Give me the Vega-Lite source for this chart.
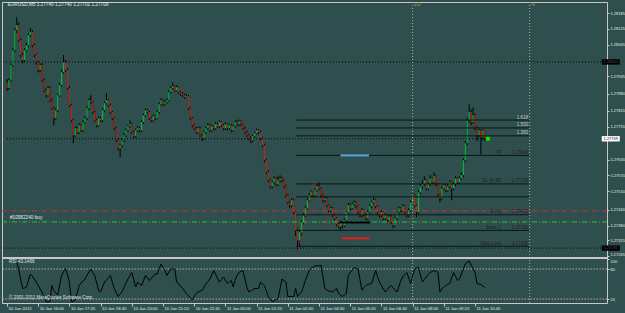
{
"$schema":"https://vega.github.io/schema/vega-lite/v6.json",
"width":605,"height":301,
"autosize":{"type":"none"},
"padding":{"left":2,"top":2,"right":18,"bottom":10},
"background":"#2f4f4f",
"config":{"view":{"fill":"#2f4f4f","stroke":"#c8c8c8","strokeWidth":1},"axis":{"grid":false,"domain":false,"labelFont":"Liberation Sans"},"text":{"font":"Liberation Sans"}},
"datasets":{
"bars":[
{"i":0,"o":1.27920,"h":1.27935,"l":1.27890,"c":1.27901},
{"i":1,"o":1.27901,"h":1.27938,"l":1.27895,"c":1.27931},
{"i":2,"o":1.27931,"h":1.27995,"l":1.27925,"c":1.27988},
{"i":3,"o":1.27988,"h":1.28052,"l":1.27982,"c":1.28044},
{"i":4,"o":1.28044,"h":1.28128,"l":1.28038,"c":1.28120},
{"i":5,"o":1.28120,"h":1.28170,"l":1.28110,"c":1.28139,"r":93},
{"i":6,"o":1.28139,"h":1.28150,"l":1.28075,"c":1.28082,"r":80},
{"i":7,"o":1.28082,"h":1.28090,"l":1.28018,"c":1.28026,"r":60},
{"i":8,"o":1.28026,"h":1.28035,"l":1.27995,"c":1.28007,"r":41},
{"i":9,"o":1.28007,"h":1.28052,"l":1.28000,"c":1.28044,"r":42},
{"i":10,"o":1.28044,"h":1.28072,"l":1.28038,"c":1.28063,"r":44},
{"i":11,"o":1.28063,"h":1.28108,"l":1.28055,"c":1.28101,"r":58},
{"i":12,"o":1.28101,"h":1.28128,"l":1.28095,"c":1.28113,"r":70},
{"i":13,"o":1.28113,"h":1.28120,"l":1.28055,"c":1.28063,"r":66},
{"i":14,"o":1.28063,"h":1.28070,"l":1.28018,"c":1.28026,"r":60},
{"i":15,"o":1.28026,"h":1.28032,"l":1.27990,"c":1.27999,"r":54},
{"i":16,"o":1.27999,"h":1.28005,"l":1.27960,"c":1.27969,"r":47},
{"i":17,"o":1.27969,"h":1.27995,"l":1.27962,"c":1.27988,"r":40},
{"i":18,"o":1.27988,"h":1.27995,"l":1.27925,"c":1.27931,"r":34},
{"i":19,"o":1.27931,"h":1.27938,"l":1.27885,"c":1.27893,"r":24},
{"i":20,"o":1.27893,"h":1.27900,"l":1.27865,"c":1.27874,"r":15},
{"i":21,"o":1.27874,"h":1.27908,"l":1.27868,"c":1.27901,"r":14},
{"i":22,"o":1.27901,"h":1.27908,"l":1.27848,"c":1.27855,"r":15},
{"i":23,"o":1.27855,"h":1.27862,"l":1.27818,"c":1.27825,"r":47},
{"i":24,"o":1.27825,"h":1.27830,"l":1.27760,"c":1.27787,"r":37},
{"i":25,"o":1.27787,"h":1.27825,"l":1.27780,"c":1.27817,"r":32},
{"i":26,"o":1.27817,"h":1.27880,"l":1.27810,"c":1.27874,"r":28},
{"i":27,"o":1.27874,"h":1.27920,"l":1.27868,"c":1.27912,"r":48},
{"i":28,"o":1.27912,"h":1.27970,"l":1.27905,"c":1.27961,"r":67},
{"i":29,"o":1.27961,"h":1.28026,"l":1.27955,"c":1.27999,"r":75},
{"i":30,"o":1.27999,"h":1.28007,"l":1.27962,"c":1.27969,"r":81},
{"i":31,"o":1.27969,"h":1.27975,"l":1.27895,"c":1.27901,"r":68},
{"i":32,"o":1.27901,"h":1.27908,"l":1.27830,"c":1.27836,"r":54},
{"i":33,"o":1.27836,"h":1.27842,"l":1.27772,"c":1.27779,"r":15},
{"i":34,"o":1.27779,"h":1.27785,"l":1.27692,"c":1.27722,"r":16},
{"i":35,"o":1.27722,"h":1.27756,"l":1.27715,"c":1.27749,"r":18},
{"i":36,"o":1.27749,"h":1.27755,"l":1.27727,"c":1.27734,"r":32},
{"i":37,"o":1.27734,"h":1.27768,"l":1.27728,"c":1.27760,"r":47},
{"i":38,"o":1.27760,"h":1.27766,"l":1.27735,"c":1.27741,"r":52},
{"i":39,"o":1.27741,"h":1.27779,"l":1.27735,"c":1.27772,"r":56},
{"i":40,"o":1.27772,"h":1.27795,"l":1.27765,"c":1.27787,"r":60},
{"i":41,"o":1.27787,"h":1.27832,"l":1.27780,"c":1.27825,"r":67},
{"i":42,"o":1.27825,"h":1.27862,"l":1.27818,"c":1.27855,"r":74},
{"i":43,"o":1.27855,"h":1.27874,"l":1.27840,"c":1.27847,"r":80},
{"i":44,"o":1.27847,"h":1.27852,"l":1.27803,"c":1.27810,"r":73},
{"i":45,"o":1.27810,"h":1.27815,"l":1.27772,"c":1.27779,"r":67},
{"i":46,"o":1.27779,"h":1.27785,"l":1.27752,"c":1.27760,"r":52},
{"i":47,"o":1.27760,"h":1.27794,"l":1.27755,"c":1.27787,"r":37},
{"i":48,"o":1.27787,"h":1.27792,"l":1.27772,"c":1.27779,"r":34},
{"i":49,"o":1.27779,"h":1.27824,"l":1.27772,"c":1.27817,"r":44},
{"i":50,"o":1.27817,"h":1.27850,"l":1.27810,"c":1.27844,"r":54},
{"i":51,"o":1.27844,"h":1.27882,"l":1.27838,"c":1.27855,"r":58},
{"i":52,"o":1.27855,"h":1.27860,"l":1.27830,"c":1.27836,"r":62},
{"i":53,"o":1.27836,"h":1.27842,"l":1.27803,"c":1.27810,"r":67},
{"i":54,"o":1.27810,"h":1.27815,"l":1.27780,"c":1.27787,"r":54},
{"i":55,"o":1.27787,"h":1.27792,"l":1.27742,"c":1.27749,"r":41},
{"i":56,"o":1.27749,"h":1.27755,"l":1.27696,"c":1.27703,"r":33},
{"i":57,"o":1.27703,"h":1.27710,"l":1.27665,"c":1.27673,"r":25},
{"i":58,"o":1.27673,"h":1.27690,"l":1.27639,"c":1.27684,"r":30},
{"i":59,"o":1.27684,"h":1.27710,"l":1.27676,"c":1.27703,"r":34},
{"i":60,"o":1.27703,"h":1.27730,"l":1.27696,"c":1.27722,"r":43},
{"i":61,"o":1.27722,"h":1.27748,"l":1.27715,"c":1.27741,"r":52},
{"i":62,"o":1.27741,"h":1.27762,"l":1.27735,"c":1.27756,"r":60},
{"i":63,"o":1.27756,"h":1.27779,"l":1.27750,"c":1.27764,"r":66},
{"i":64,"o":1.27764,"h":1.27770,"l":1.27727,"c":1.27734,"r":73},
{"i":65,"o":1.27734,"h":1.27740,"l":1.27711,"c":1.27719,"r":58},
{"i":66,"o":1.27719,"h":1.27748,"l":1.27712,"c":1.27741,"r":44},
{"i":67,"o":1.27741,"h":1.27756,"l":1.27735,"c":1.27749,"r":54},
{"i":68,"o":1.27749,"h":1.27755,"l":1.27733,"c":1.27741,"r":50},
{"i":69,"o":1.27741,"h":1.27779,"l":1.27735,"c":1.27772,"r":47},
{"i":70,"o":1.27772,"h":1.27805,"l":1.27765,"c":1.27798,"r":57},
{"i":71,"o":1.27798,"h":1.27825,"l":1.27792,"c":1.27817,"r":67},
{"i":72,"o":1.27817,"h":1.27822,"l":1.27803,"c":1.27810,"r":62},
{"i":73,"o":1.27810,"h":1.27815,"l":1.27780,"c":1.27787,"r":57},
{"i":74,"o":1.27787,"h":1.27792,"l":1.27772,"c":1.27779,"r":62},
{"i":75,"o":1.27779,"h":1.27800,"l":1.27772,"c":1.27794,"r":66},
{"i":76,"o":1.27794,"h":1.27798,"l":1.27780,"c":1.27787,"r":70},
{"i":77,"o":1.27787,"h":1.27817,"l":1.27782,"c":1.27810,"r":70},
{"i":78,"o":1.27810,"h":1.27847,"l":1.27805,"c":1.27840,"r":80},
{"i":79,"o":1.27840,"h":1.27862,"l":1.27835,"c":1.27855,"r":90},
{"i":80,"o":1.27855,"h":1.27860,"l":1.27833,"c":1.27840,"r":83},
{"i":81,"o":1.27840,"h":1.27855,"l":1.27835,"c":1.27847,"r":77},
{"i":82,"o":1.27847,"h":1.27862,"l":1.27842,"c":1.27855,"r":67},
{"i":83,"o":1.27855,"h":1.27892,"l":1.27850,"c":1.27885,"r":74},
{"i":84,"o":1.27885,"h":1.27908,"l":1.27880,"c":1.27901,"r":80},
{"i":85,"o":1.27901,"h":1.27923,"l":1.27895,"c":1.27908,"r":80},
{"i":86,"o":1.27908,"h":1.27912,"l":1.27887,"c":1.27893,"r":80},
{"i":87,"o":1.27893,"h":1.27912,"l":1.27888,"c":1.27904,"r":54},
{"i":88,"o":1.27904,"h":1.27908,"l":1.27878,"c":1.27885,"r":50},
{"i":89,"o":1.27885,"h":1.27890,"l":1.27871,"c":1.27878,"r":45},
{"i":90,"o":1.27878,"h":1.27885,"l":1.27866,"c":1.27874,"r":41},
{"i":91,"o":1.27874,"h":1.27880,"l":1.27860,"c":1.27866,"r":36},
{"i":92,"o":1.27866,"h":1.27878,"l":1.27862,"c":1.27870,"r":31},
{"i":93,"o":1.27870,"h":1.27875,"l":1.27818,"c":1.27825,"r":27},
{"i":94,"o":1.27825,"h":1.27830,"l":1.27780,"c":1.27787,"r":22},
{"i":95,"o":1.27787,"h":1.27792,"l":1.27752,"c":1.27760,"r":18},
{"i":96,"o":1.27760,"h":1.27766,"l":1.27742,"c":1.27749,"r":25},
{"i":97,"o":1.27749,"h":1.27755,"l":1.27727,"c":1.27734,"r":31},
{"i":98,"o":1.27734,"h":1.27756,"l":1.27728,"c":1.27749,"r":34},
{"i":99,"o":1.27749,"h":1.27755,"l":1.27715,"c":1.27722,"r":36},
{"i":100,"o":1.27722,"h":1.27728,"l":1.27700,"c":1.27711,"r":37},
{"i":101,"o":1.27711,"h":1.27740,"l":1.27705,"c":1.27734,"r":44},
{"i":102,"o":1.27734,"h":1.27756,"l":1.27728,"c":1.27749,"r":50},
{"i":103,"o":1.27749,"h":1.27768,"l":1.27742,"c":1.27760,"r":55},
{"i":104,"o":1.27760,"h":1.27766,"l":1.27735,"c":1.27741,"r":60},
{"i":105,"o":1.27741,"h":1.27762,"l":1.27735,"c":1.27756,"r":68},
{"i":106,"o":1.27756,"h":1.27760,"l":1.27742,"c":1.27749,"r":77},
{"i":107,"o":1.27749,"h":1.27772,"l":1.27742,"c":1.27764,"r":69},
{"i":108,"o":1.27764,"h":1.27770,"l":1.27750,"c":1.27756,"r":61},
{"i":109,"o":1.27756,"h":1.27779,"l":1.27750,"c":1.27772,"r":54},
{"i":110,"o":1.27772,"h":1.27776,"l":1.27753,"c":1.27760,"r":59},
{"i":111,"o":1.27760,"h":1.27765,"l":1.27741,"c":1.27749,"r":64},
{"i":112,"o":1.27749,"h":1.27772,"l":1.27742,"c":1.27764,"r":57},
{"i":113,"o":1.27764,"h":1.27768,"l":1.27741,"c":1.27749,"r":51},
{"i":114,"o":1.27749,"h":1.27766,"l":1.27742,"c":1.27760,"r":54},
{"i":115,"o":1.27760,"h":1.27765,"l":1.27734,"c":1.27741,"r":57},
{"i":116,"o":1.27741,"h":1.27762,"l":1.27735,"c":1.27756,"r":44},
{"i":117,"o":1.27756,"h":1.27779,"l":1.27750,"c":1.27772,"r":58},
{"i":118,"o":1.27772,"h":1.27779,"l":1.27757,"c":1.27764,"r":67},
{"i":119,"o":1.27764,"h":1.27782,"l":1.27757,"c":1.27775,"r":73},
{"i":120,"o":1.27775,"h":1.27779,"l":1.27757,"c":1.27764,"r":75},
{"i":121,"o":1.27764,"h":1.27768,"l":1.27742,"c":1.27749,"r":77},
{"i":122,"o":1.27749,"h":1.27755,"l":1.27727,"c":1.27734,"r":60},
{"i":123,"o":1.27734,"h":1.27740,"l":1.27715,"c":1.27722,"r":44},
{"i":124,"o":1.27722,"h":1.27728,"l":1.27703,"c":1.27711,"r":34},
{"i":125,"o":1.27711,"h":1.27718,"l":1.27692,"c":1.27703,"r":36},
{"i":126,"o":1.27703,"h":1.27725,"l":1.27696,"c":1.27719,"r":39},
{"i":127,"o":1.27719,"h":1.27736,"l":1.27712,"c":1.27730,"r":41},
{"i":128,"o":1.27730,"h":1.27748,"l":1.27725,"c":1.27741,"r":41},
{"i":129,"o":1.27741,"h":1.27745,"l":1.27727,"c":1.27734,"r":41},
{"i":130,"o":1.27734,"h":1.27740,"l":1.27703,"c":1.27711,"r":54},
{"i":131,"o":1.27711,"h":1.27716,"l":1.27676,"c":1.27684,"r":50},
{"i":132,"o":1.27684,"h":1.27690,"l":1.27620,"c":1.27628,"r":47},
{"i":133,"o":1.27628,"h":1.27633,"l":1.27575,"c":1.27582,"r":36},
{"i":134,"o":1.27582,"h":1.27590,"l":1.27545,"c":1.27552,"r":25},
{"i":135,"o":1.27552,"h":1.27558,"l":1.27521,"c":1.27529,"r":20},
{"i":136,"o":1.27529,"h":1.27550,"l":1.27521,"c":1.27544,"r":15},
{"i":137,"o":1.27544,"h":1.27567,"l":1.27537,"c":1.27559,"r":17},
{"i":138,"o":1.27559,"h":1.27563,"l":1.27529,"c":1.27537,"r":19},
{"i":139,"o":1.27537,"h":1.27567,"l":1.27530,"c":1.27552,"r":21},
{"i":140,"o":1.27552,"h":1.27571,"l":1.27544,"c":1.27559,"r":40},
{"i":141,"o":1.27559,"h":1.27565,"l":1.27544,"c":1.27552,"r":60},
{"i":142,"o":1.27552,"h":1.27556,"l":1.27521,"c":1.27529,"r":57},
{"i":143,"o":1.27529,"h":1.27535,"l":1.27487,"c":1.27495,"r":54},
{"i":144,"o":1.27495,"h":1.27500,"l":1.27461,"c":1.27468,"r":25},
{"i":145,"o":1.27468,"h":1.27474,"l":1.27446,"c":1.27457,"r":25},
{"i":146,"o":1.27457,"h":1.27484,"l":1.27450,"c":1.27476,"r":25},
{"i":147,"o":1.27476,"h":1.27481,"l":1.27423,"c":1.27431,"r":25},
{"i":148,"o":1.27431,"h":1.27438,"l":1.27340,"c":1.27362,"r":41},
{"i":149,"o":1.27362,"h":1.27368,"l":1.27287,"c":1.27324,"r":25},
{"i":150,"o":1.27324,"h":1.27362,"l":1.27300,"c":1.27355,"r":30},
{"i":151,"o":1.27355,"h":1.27400,"l":1.27340,"c":1.27393,"r":34},
{"i":152,"o":1.27393,"h":1.27427,"l":1.27385,"c":1.27419,"r":45},
{"i":153,"o":1.27419,"h":1.27453,"l":1.27412,"c":1.27446,"r":57},
{"i":154,"o":1.27446,"h":1.27484,"l":1.27438,"c":1.27476,"r":67},
{"i":155,"o":1.27476,"h":1.27503,"l":1.27468,"c":1.27495,"r":77},
{"i":156,"o":1.27495,"h":1.27514,"l":1.27488,"c":1.27506,"r":82},
{"i":157,"o":1.27506,"h":1.27510,"l":1.27487,"c":1.27495,"r":84},
{"i":158,"o":1.27495,"h":1.27521,"l":1.27488,"c":1.27514,"r":86},
{"i":159,"o":1.27514,"h":1.27537,"l":1.27508,"c":1.27529,"r":87},
{"i":160,"o":1.27529,"h":1.27544,"l":1.27514,"c":1.27521,"r":86},
{"i":161,"o":1.27521,"h":1.27525,"l":1.27487,"c":1.27495,"r":88},
{"i":162,"o":1.27495,"h":1.27500,"l":1.27468,"c":1.27476,"r":64},
{"i":163,"o":1.27476,"h":1.27491,"l":1.27468,"c":1.27484,"r":41},
{"i":164,"o":1.27484,"h":1.27488,"l":1.27450,"c":1.27457,"r":38},
{"i":165,"o":1.27457,"h":1.27461,"l":1.27430,"c":1.27438,"r":36},
{"i":166,"o":1.27438,"h":1.27453,"l":1.27431,"c":1.27446,"r":35},
{"i":167,"o":1.27446,"h":1.27450,"l":1.27412,"c":1.27419,"r":34},
{"i":168,"o":1.27419,"h":1.27425,"l":1.27400,"c":1.27408,"r":38},
{"i":169,"o":1.27408,"h":1.27412,"l":1.27378,"c":1.27385,"r":41},
{"i":170,"o":1.27385,"h":1.27390,"l":1.27370,"c":1.27377,"r":31},
{"i":171,"o":1.27377,"h":1.27400,"l":1.27362,"c":1.27393,"r":28},
{"i":172,"o":1.27393,"h":1.27398,"l":1.27370,"c":1.27381,"r":25},
{"i":173,"o":1.27381,"h":1.27408,"l":1.27374,"c":1.27400,"r":28},
{"i":174,"o":1.27400,"h":1.27438,"l":1.27393,"c":1.27431,"r":31},
{"i":175,"o":1.27431,"h":1.27465,"l":1.27425,"c":1.27457,"r":67},
{"i":176,"o":1.27457,"h":1.27463,"l":1.27438,"c":1.27446,"r":73},
{"i":177,"o":1.27446,"h":1.27468,"l":1.27440,"c":1.27461,"r":78},
{"i":178,"o":1.27461,"h":1.27476,"l":1.27455,"c":1.27468,"r":83},
{"i":179,"o":1.27468,"h":1.27472,"l":1.27446,"c":1.27453,"r":81},
{"i":180,"o":1.27453,"h":1.27458,"l":1.27423,"c":1.27431,"r":80},
{"i":181,"o":1.27431,"h":1.27436,"l":1.27411,"c":1.27419,"r":59},
{"i":182,"o":1.27419,"h":1.27446,"l":1.27412,"c":1.27438,"r":38},
{"i":183,"o":1.27438,"h":1.27442,"l":1.27415,"c":1.27423,"r":43},
{"i":184,"o":1.27423,"h":1.27428,"l":1.27400,"c":1.27408,"r":47},
{"i":185,"o":1.27408,"h":1.27438,"l":1.27402,"c":1.27431,"r":49},
{"i":186,"o":1.27431,"h":1.27460,"l":1.27425,"c":1.27453,"r":50},
{"i":187,"o":1.27453,"h":1.27474,"l":1.27446,"c":1.27468,"r":51},
{"i":188,"o":1.27468,"h":1.27487,"l":1.27461,"c":1.27476,"r":64},
{"i":189,"o":1.27476,"h":1.27480,"l":1.27446,"c":1.27453,"r":77},
{"i":190,"o":1.27453,"h":1.27458,"l":1.27423,"c":1.27431,"r":65},
{"i":191,"o":1.27431,"h":1.27436,"l":1.27411,"c":1.27419,"r":54},
{"i":192,"o":1.27419,"h":1.27438,"l":1.27412,"c":1.27431,"r":47},
{"i":193,"o":1.27431,"h":1.27435,"l":1.27400,"c":1.27408,"r":40},
{"i":194,"o":1.27408,"h":1.27427,"l":1.27401,"c":1.27419,"r":34},
{"i":195,"o":1.27419,"h":1.27423,"l":1.27393,"c":1.27400,"r":39},
{"i":196,"o":1.27400,"h":1.27422,"l":1.27394,"c":1.27415,"r":44},
{"i":197,"o":1.27415,"h":1.27419,"l":1.27385,"c":1.27393,"r":47},
{"i":198,"o":1.27393,"h":1.27398,"l":1.27370,"c":1.27381,"r":42},
{"i":199,"o":1.27381,"h":1.27415,"l":1.27375,"c":1.27408,"r":38},
{"i":200,"o":1.27408,"h":1.27438,"l":1.27402,"c":1.27431,"r":34},
{"i":201,"o":1.27431,"h":1.27453,"l":1.27425,"c":1.27446,"r":46},
{"i":202,"o":1.27446,"h":1.27451,"l":1.27430,"c":1.27438,"r":57},
{"i":203,"o":1.27438,"h":1.27461,"l":1.27432,"c":1.27453,"r":65},
{"i":204,"o":1.27453,"h":1.27457,"l":1.27423,"c":1.27431,"r":69},
{"i":205,"o":1.27431,"h":1.27436,"l":1.27411,"c":1.27419,"r":73},
{"i":206,"o":1.27419,"h":1.27446,"l":1.27412,"c":1.27438,"r":62},
{"i":207,"o":1.27438,"h":1.27476,"l":1.27432,"c":1.27468,"r":51},
{"i":208,"o":1.27468,"h":1.27503,"l":1.27461,"c":1.27495,"r":66},
{"i":209,"o":1.27495,"h":1.27500,"l":1.27450,"c":1.27457,"r":80},
{"i":210,"o":1.27457,"h":1.27461,"l":1.27412,"c":1.27431,"r":82},
{"i":211,"o":1.27431,"h":1.27514,"l":1.27425,"c":1.27506,"r":83},
{"i":212,"o":1.27506,"h":1.27537,"l":1.27500,"c":1.27529,"r":68},
{"i":213,"o":1.27529,"h":1.27552,"l":1.27521,"c":1.27537,"r":54},
{"i":214,"o":1.27537,"h":1.27567,"l":1.27530,"c":1.27552,"r":59},
{"i":215,"o":1.27552,"h":1.27556,"l":1.27514,"c":1.27521,"r":64},
{"i":216,"o":1.27521,"h":1.27544,"l":1.27514,"c":1.27537,"r":69},
{"i":217,"o":1.27537,"h":1.27571,"l":1.27530,"c":1.27559,"r":73},
{"i":218,"o":1.27559,"h":1.27563,"l":1.27537,"c":1.27544,"r":75},
{"i":219,"o":1.27544,"h":1.27582,"l":1.27537,"c":1.27567,"r":77},
{"i":220,"o":1.27567,"h":1.27571,"l":1.27529,"c":1.27537,"r":75},
{"i":221,"o":1.27537,"h":1.27541,"l":1.27491,"c":1.27499,"r":73},
{"i":222,"o":1.27499,"h":1.27503,"l":1.27468,"c":1.27484,"r":34},
{"i":223,"o":1.27484,"h":1.27529,"l":1.27476,"c":1.27521,"r":40},
{"i":224,"o":1.27521,"h":1.27540,"l":1.27514,"c":1.27533,"r":44},
{"i":225,"o":1.27533,"h":1.27537,"l":1.27506,"c":1.27514,"r":47},
{"i":226,"o":1.27514,"h":1.27537,"l":1.27508,"c":1.27529,"r":49},
{"i":227,"o":1.27529,"h":1.27552,"l":1.27521,"c":1.27544,"r":51},
{"i":228,"o":1.27544,"h":1.27548,"l":1.27476,"c":1.27521,"r":62},
{"i":229,"o":1.27521,"h":1.27544,"l":1.27514,"c":1.27537,"r":73},
{"i":230,"o":1.27537,"h":1.27567,"l":1.27530,"c":1.27559,"r":65},
{"i":231,"o":1.27559,"h":1.27563,"l":1.27537,"c":1.27544,"r":57},
{"i":232,"o":1.27544,"h":1.27567,"l":1.27537,"c":1.27559,"r":60},
{"i":233,"o":1.27559,"h":1.27582,"l":1.27552,"c":1.27571,"r":70},
{"i":234,"o":1.27571,"h":1.27635,"l":1.27563,"c":1.27628,"r":80},
{"i":235,"o":1.27628,"h":1.27700,"l":1.27620,"c":1.27692,"r":90},
{"i":236,"o":1.27692,"h":1.27790,"l":1.27684,"c":1.27779,"r":93},
{"i":237,"o":1.27779,"h":1.27840,"l":1.27770,"c":1.27810,"r":96},
{"i":238,"o":1.27810,"h":1.27820,"l":1.27760,"c":1.27772,"r":88},
{"i":239,"o":1.27772,"h":1.27828,"l":1.27765,"c":1.27798,"r":80},
{"i":240,"o":1.27798,"h":1.27805,"l":1.27741,"c":1.27749,"r":73},
{"i":241,"o":1.27749,"h":1.27756,"l":1.27700,"c":1.27722,"r":51},
{"i":242,"o":1.27722,"h":1.27748,"l":1.27715,"c":1.27741,"r":50},
{"i":243,"o":1.27741,"h":1.27745,"l":1.27650,"c":1.27715,"r":49},
{"i":244,"o":1.27715,"h":1.27745,"l":1.27703,"c":1.27740,"r":46},
{"i":245,"o":1.27740,"h":1.27740,"l":1.27701,"c":1.27709,"r":43}
],
"fib":[
{"i":148.3,"i2":267.8,"p":1.27780,"n":"","v":"1.618"},
{"i":148.3,"i2":267.8,"p":1.27750,"n":"","v":"1.500"},
{"i":148.3,"i2":267.8,"p":1.27720,"n":"","v":"1.382"},
{"i":148.3,"i2":267.8,"p":1.27646,"n":"TP","v":"1.27646"},
{"i":148.3,"i2":267.8,"p":1.27538,"n":"SL @ BE","v":"1.27538"},
{"i":148.3,"i2":267.8,"p":1.27489,"n":"","v":""},
{"i":148.3,"i2":267.8,"p":1.27421,"n":"Entry","v":"1.27421"},
{"i":148.3,"i2":267.8,"p":1.27362,"n":"Base C","v":"1.27362"},
{"i":148.3,"i2":267.8,"p":1.27302,"n":"Stop Loss","v":"1.27302"}
],
"boxes":[
{"i":309.6,"p":1.28000,"t":"1.28000","k":"line"},
{"i":309.6,"p":1.27295,"t":"1.27295","k":"line"},
{"i":309.6,"p":1.27709,"t":"1.27709","k":"bid"}
]
},
"layer":[
{"data":{"name":"bars"},
 "mark":{"type":"rule","color":"#000000","strokeWidth":1},
 "encoding":{"x":{"field":"i","type":"quantitative","scale":{"domain":[0,305.1],"nice":false,"zero":false},
   "axis":{"values":[0,16,32,48,64,80,96,112,128,144,160,176,192,208,224,240],"labelExpr":"['10 Jan 2012','10 Jan 16:00','10 Jan 17:20','10 Jan 18:40','10 Jan 20:00','10 Jan 21:20','10 Jan 22:40','11 Jan 00:00','11 Jan 01:20','11 Jan 02:40','11 Jan 04:00','11 Jan 05:20','11 Jan 06:40','11 Jan 08:00','11 Jan 09:20','11 Jan 10:40'][round(datum.value/16)]","title":null,"orient":"bottom","tickSize":3,"tickColor":"#c8c8c8","labelColor":"#e8e8e8","labelFontSize":4.2,"labelAlign":"left","labelBaseline":"top","labelPadding":0,"labelOffset":1,"labelOverlap":false}},
  "y":{"field":"l","type":"quantitative","scale":{"domain":[1.27087,1.28227],"nice":false,"zero":false},
   "axis":{"orient":"right","values":[1.28185,1.28125,1.28065,1.27945,1.2788,1.27815,1.27755,1.2763,1.2757,1.2751,1.2744,1.2738,1.27325,1.27265],"format":".5f","title":null,"tickSize":2,"tickColor":"#c8c8c8","labelColor":"#e8e8e8","labelFontSize":4.0,"labelPadding":1,"labelOverlap":false,"labelBaseline":{"condition":{"test":"datum.value < 1.2727","value":"bottom"},"value":"middle"}}},
  "y2":{"field":"h"}}},
{"data":{"name":"bars"},
 "mark":{"type":"bar","size":1.3},
 "encoding":{"x":{"field":"i","type":"quantitative","scale":{"domain":[0,305.1],"nice":false,"zero":false},
   "axis":{"values":[0,16,32,48,64,80,96,112,128,144,160,176,192,208,224,240],"labelExpr":"['10 Jan 2012','10 Jan 16:00','10 Jan 17:20','10 Jan 18:40','10 Jan 20:00','10 Jan 21:20','10 Jan 22:40','11 Jan 00:00','11 Jan 01:20','11 Jan 02:40','11 Jan 04:00','11 Jan 05:20','11 Jan 06:40','11 Jan 08:00','11 Jan 09:20','11 Jan 10:40'][round(datum.value/16)]","title":null,"orient":"bottom","tickSize":3,"tickColor":"#c8c8c8","labelColor":"#e8e8e8","labelFontSize":4.2,"labelAlign":"left","labelBaseline":"top","labelPadding":0,"labelOffset":1,"labelOverlap":false}},
  "y":{"field":"o","type":"quantitative","scale":{"domain":[1.27087,1.28227],"nice":false,"zero":false},"axis":null},
  "y2":{"field":"c"},
  "color":{"condition":{"test":"datum.c >= datum.o","value":"#10b048"},"value":"#b02818"}}},
{"data":{"values":[{"v":80},{"v":20}]},
 "mark":{"type":"rule","color":"#a8b2b2","strokeDash":[1.5,1.5],"strokeWidth":1},
 "encoding":{"y":{"field":"v","type":"quantitative","scale":{"domain":[12,614],"nice":false,"zero":false},
   "axis":{"orient":"right","values":[100,80,20],"title":null,"tickSize":2,"tickColor":"#c8c8c8","labelColor":"#e8e8e8","labelFontSize":4.0,"labelPadding":1,"labelOverlap":false,"labelBaseline":{"condition":{"test":"datum.value == 100","value":"top"},"value":"middle"}}}}},
{"data":{"values":[{"i":208,"t":"LO"},{"i":268,"t":"N"}]},
 "mark":{"type":"rule","color":"#a8b2b2","strokeDash":[1,2],"strokeWidth":1},
 "encoding":{"x":{"field":"i","type":"quantitative","scale":{"domain":[0,305.1],"nice":false,"zero":false},
   "axis":{"values":[0,16,32,48,64,80,96,112,128,144,160,176,192,208,224,240],"labelExpr":"['10 Jan 2012','10 Jan 16:00','10 Jan 17:20','10 Jan 18:40','10 Jan 20:00','10 Jan 21:20','10 Jan 22:40','11 Jan 00:00','11 Jan 01:20','11 Jan 02:40','11 Jan 04:00','11 Jan 05:20','11 Jan 06:40','11 Jan 08:00','11 Jan 09:20','11 Jan 10:40'][round(datum.value/16)]","title":null,"orient":"bottom","tickSize":3,"tickColor":"#c8c8c8","labelColor":"#e8e8e8","labelFontSize":4.2,"labelAlign":"left","labelBaseline":"top","labelPadding":0,"labelOffset":1,"labelOverlap":false}}}},
{"data":{"values":[{"i":208,"t":"LO"},{"i":268,"t":"N"}]},
 "mark":{"type":"text","color":"#a8a030","fontSize":4.8,"align":"left","baseline":"middle","dx":1.5},
 "encoding":{"x":{"field":"i","type":"quantitative","scale":{"domain":[0,305.1],"nice":false,"zero":false},
   "axis":{"values":[0,16,32,48,64,80,96,112,128,144,160,176,192,208,224,240],"labelExpr":"['10 Jan 2012','10 Jan 16:00','10 Jan 17:20','10 Jan 18:40','10 Jan 20:00','10 Jan 21:20','10 Jan 22:40','11 Jan 00:00','11 Jan 01:20','11 Jan 02:40','11 Jan 04:00','11 Jan 05:20','11 Jan 06:40','11 Jan 08:00','11 Jan 09:20','11 Jan 10:40'][round(datum.value/16)]","title":null,"orient":"bottom","tickSize":3,"tickColor":"#c8c8c8","labelColor":"#e8e8e8","labelFontSize":4.2,"labelAlign":"left","labelBaseline":"top","labelPadding":0,"labelOffset":1,"labelOverlap":false}},
  "y":{"datum":1.28216,"type":"quantitative","scale":{"domain":[1.27087,1.28227],"nice":false,"zero":false},"axis":null},
  "text":{"field":"t"}}},
{"data":{"values":[{"p":1.28000},{"p":1.27295}]},
 "mark":{"type":"rule","color":"#000000","strokeDash":[1,2],"strokeWidth":1},
 "encoding":{"y":{"field":"p","type":"quantitative","scale":{"domain":[1.27087,1.28227],"nice":false,"zero":false},"axis":null}}},
{"data":{"values":[{"p":1.27436}]},
 "mark":{"type":"rule","color":"#d03030","strokeDash":[5,2,1,2],"strokeWidth":1},
 "encoding":{"y":{"field":"p","type":"quantitative","scale":{"domain":[1.27087,1.28227],"nice":false,"zero":false},"axis":null}}},
{"data":{"values":[{"p":1.27394}]},
 "mark":{"type":"rule","color":"#30c030","strokeDash":[5,2,1,2],"strokeWidth":1},
 "encoding":{"y":{"field":"p","type":"quantitative","scale":{"domain":[1.27087,1.28227],"nice":false,"zero":false},"axis":null}}},
{"data":{"values":[{"i":0,"i2":246,"p":1.27709}]},
 "mark":{"type":"rule","color":"#000000","strokeDash":[1,2],"strokeWidth":1},
 "encoding":{"x":{"field":"i","type":"quantitative","scale":{"domain":[0,305.1],"nice":false,"zero":false},
   "axis":{"values":[0,16,32,48,64,80,96,112,128,144,160,176,192,208,224,240],"labelExpr":"['10 Jan 2012','10 Jan 16:00','10 Jan 17:20','10 Jan 18:40','10 Jan 20:00','10 Jan 21:20','10 Jan 22:40','11 Jan 00:00','11 Jan 01:20','11 Jan 02:40','11 Jan 04:00','11 Jan 05:20','11 Jan 06:40','11 Jan 08:00','11 Jan 09:20','11 Jan 10:40'][round(datum.value/16)]","title":null,"orient":"bottom","tickSize":3,"tickColor":"#c8c8c8","labelColor":"#e8e8e8","labelFontSize":4.2,"labelAlign":"left","labelBaseline":"top","labelPadding":0,"labelOffset":1,"labelOverlap":false}},"x2":{"field":"i2"},
  "y":{"field":"p","type":"quantitative","scale":{"domain":[1.27087,1.28227],"nice":false,"zero":false},"axis":null}}},
{"data":{"name":"fib"},
 "mark":{"type":"rule","color":"#0c1414","strokeWidth":1},
 "encoding":{"x":{"field":"i","type":"quantitative","scale":{"domain":[0,305.1],"nice":false,"zero":false},
   "axis":{"values":[0,16,32,48,64,80,96,112,128,144,160,176,192,208,224,240],"labelExpr":"['10 Jan 2012','10 Jan 16:00','10 Jan 17:20','10 Jan 18:40','10 Jan 20:00','10 Jan 21:20','10 Jan 22:40','11 Jan 00:00','11 Jan 01:20','11 Jan 02:40','11 Jan 04:00','11 Jan 05:20','11 Jan 06:40','11 Jan 08:00','11 Jan 09:20','11 Jan 10:40'][round(datum.value/16)]","title":null,"orient":"bottom","tickSize":3,"tickColor":"#c8c8c8","labelColor":"#e8e8e8","labelFontSize":4.2,"labelAlign":"left","labelBaseline":"top","labelPadding":0,"labelOffset":1,"labelOverlap":false}},"x2":{"field":"i2"},
  "y":{"field":"p","type":"quantitative","scale":{"domain":[1.27087,1.28227],"nice":false,"zero":false},"axis":null}}},
{"data":{"name":"fib"},
 "mark":{"type":"text","fontSize":4.6,"align":"right","baseline":"bottom","dx":-1,"dy":-0.5},
 "encoding":{"x":{"field":"i2","type":"quantitative","scale":{"domain":[0,305.1],"nice":false,"zero":false},
   "axis":{"values":[0,16,32,48,64,80,96,112,128,144,160,176,192,208,224,240],"labelExpr":"['10 Jan 2012','10 Jan 16:00','10 Jan 17:20','10 Jan 18:40','10 Jan 20:00','10 Jan 21:20','10 Jan 22:40','11 Jan 00:00','11 Jan 01:20','11 Jan 02:40','11 Jan 04:00','11 Jan 05:20','11 Jan 06:40','11 Jan 08:00','11 Jan 09:20','11 Jan 10:40'][round(datum.value/16)]","title":null,"orient":"bottom","tickSize":3,"tickColor":"#c8c8c8","labelColor":"#e8e8e8","labelFontSize":4.2,"labelAlign":"left","labelBaseline":"top","labelPadding":0,"labelOffset":1,"labelOverlap":false}},
  "y":{"field":"p","type":"quantitative","scale":{"domain":[1.27087,1.28227],"nice":false,"zero":false},"axis":null},
  "text":{"field":"v"},
  "color":{"condition":{"test":"datum.n == ''","value":"#c4cccc"},"value":"#1a2222"}}},
{"data":{"name":"fib"},
 "mark":{"type":"text","fontSize":4.6,"align":"right","baseline":"bottom","dx":-28,"dy":-0.5,"color":"#1a2222"},
 "encoding":{"x":{"field":"i2","type":"quantitative","scale":{"domain":[0,305.1],"nice":false,"zero":false},
   "axis":{"values":[0,16,32,48,64,80,96,112,128,144,160,176,192,208,224,240],"labelExpr":"['10 Jan 2012','10 Jan 16:00','10 Jan 17:20','10 Jan 18:40','10 Jan 20:00','10 Jan 21:20','10 Jan 22:40','11 Jan 00:00','11 Jan 01:20','11 Jan 02:40','11 Jan 04:00','11 Jan 05:20','11 Jan 06:40','11 Jan 08:00','11 Jan 09:20','11 Jan 10:40'][round(datum.value/16)]","title":null,"orient":"bottom","tickSize":3,"tickColor":"#c8c8c8","labelColor":"#e8e8e8","labelFontSize":4.2,"labelAlign":"left","labelBaseline":"top","labelPadding":0,"labelOffset":1,"labelOverlap":false}},
  "y":{"field":"p","type":"quantitative","scale":{"domain":[1.27087,1.28227],"nice":false,"zero":false},"axis":null},
  "text":{"field":"n"}}},
{"data":{"values":[{"i":171,"i2":185.6,"p":1.27646,"k":"tp"},{"i":170.4,"i2":186.1,"p":1.27392,"k":"entry"},{"i":171.5,"i2":186.1,"p":1.27332,"k":"sl"}]},
 "mark":{"type":"rule","strokeWidth":2},
 "encoding":{"x":{"field":"i","type":"quantitative","scale":{"domain":[0,305.1],"nice":false,"zero":false},
   "axis":{"values":[0,16,32,48,64,80,96,112,128,144,160,176,192,208,224,240],"labelExpr":"['10 Jan 2012','10 Jan 16:00','10 Jan 17:20','10 Jan 18:40','10 Jan 20:00','10 Jan 21:20','10 Jan 22:40','11 Jan 00:00','11 Jan 01:20','11 Jan 02:40','11 Jan 04:00','11 Jan 05:20','11 Jan 06:40','11 Jan 08:00','11 Jan 09:20','11 Jan 10:40'][round(datum.value/16)]","title":null,"orient":"bottom","tickSize":3,"tickColor":"#c8c8c8","labelColor":"#e8e8e8","labelFontSize":4.2,"labelAlign":"left","labelBaseline":"top","labelPadding":0,"labelOffset":1,"labelOverlap":false}},"x2":{"field":"i2"},
  "y":{"field":"p","type":"quantitative","scale":{"domain":[1.27087,1.28227],"nice":false,"zero":false},"axis":null},
  "color":{"condition":[{"test":"datum.k == 'tp'","value":"#5aa8d8"},{"test":"datum.k == 'sl'","value":"#e02020"}],"value":"#000000"}}},
{"data":{"values":[{"i":149,"p":1.27287},{"i":157.5,"p":1.27544},{"i":166.4,"p":1.27362}]},
 "mark":{"type":"line","color":"#d02020","strokeDash":[1,1.5],"strokeWidth":1},
 "encoding":{"x":{"field":"i","type":"quantitative","scale":{"domain":[0,305.1],"nice":false,"zero":false},
   "axis":{"values":[0,16,32,48,64,80,96,112,128,144,160,176,192,208,224,240],"labelExpr":"['10 Jan 2012','10 Jan 16:00','10 Jan 17:20','10 Jan 18:40','10 Jan 20:00','10 Jan 21:20','10 Jan 22:40','11 Jan 00:00','11 Jan 01:20','11 Jan 02:40','11 Jan 04:00','11 Jan 05:20','11 Jan 06:40','11 Jan 08:00','11 Jan 09:20','11 Jan 10:40'][round(datum.value/16)]","title":null,"orient":"bottom","tickSize":3,"tickColor":"#c8c8c8","labelColor":"#e8e8e8","labelFontSize":4.2,"labelAlign":"left","labelBaseline":"top","labelPadding":0,"labelOffset":1,"labelOverlap":false}},
  "y":{"field":"p","type":"quantitative","scale":{"domain":[1.27087,1.28227],"nice":false,"zero":false},"axis":null}}},
{"data":{"values":[{"i":246.6,"p":1.27709}]},
 "mark":{"type":"point","shape":"square","filled":true,"size":14,"color":"#00ee00","opacity":1},
 "encoding":{"x":{"field":"i","type":"quantitative","scale":{"domain":[0,305.1],"nice":false,"zero":false},
   "axis":{"values":[0,16,32,48,64,80,96,112,128,144,160,176,192,208,224,240],"labelExpr":"['10 Jan 2012','10 Jan 16:00','10 Jan 17:20','10 Jan 18:40','10 Jan 20:00','10 Jan 21:20','10 Jan 22:40','11 Jan 00:00','11 Jan 01:20','11 Jan 02:40','11 Jan 04:00','11 Jan 05:20','11 Jan 06:40','11 Jan 08:00','11 Jan 09:20','11 Jan 10:40'][round(datum.value/16)]","title":null,"orient":"bottom","tickSize":3,"tickColor":"#c8c8c8","labelColor":"#e8e8e8","labelFontSize":4.2,"labelAlign":"left","labelBaseline":"top","labelPadding":0,"labelOffset":1,"labelOverlap":false}},
  "y":{"field":"p","type":"quantitative","scale":{"domain":[1.27087,1.28227],"nice":false,"zero":false},"axis":null}}},
{"data":{"name":"boxes"},
 "mark":{"type":"point","shape":"M-1,-0.3H1V0.3H-1Z","filled":true,"size":324,"opacity":1},
 "encoding":{"x":{"field":"i","type":"quantitative","scale":{"domain":[0,305.1],"nice":false,"zero":false},
   "axis":{"values":[0,16,32,48,64,80,96,112,128,144,160,176,192,208,224,240],"labelExpr":"['10 Jan 2012','10 Jan 16:00','10 Jan 17:20','10 Jan 18:40','10 Jan 20:00','10 Jan 21:20','10 Jan 22:40','11 Jan 00:00','11 Jan 01:20','11 Jan 02:40','11 Jan 04:00','11 Jan 05:20','11 Jan 06:40','11 Jan 08:00','11 Jan 09:20','11 Jan 10:40'][round(datum.value/16)]","title":null,"orient":"bottom","tickSize":3,"tickColor":"#c8c8c8","labelColor":"#e8e8e8","labelFontSize":4.2,"labelAlign":"left","labelBaseline":"top","labelPadding":0,"labelOffset":1,"labelOverlap":false}},
  "y":{"field":"p","type":"quantitative","scale":{"domain":[1.27087,1.28227],"nice":false,"zero":false},"axis":null},
  "color":{"condition":{"test":"datum.k == 'bid'","value":"#ffffff"},"value":"#000000"}}},
{"data":{"name":"boxes"},
 "mark":{"type":"text","fontSize":4.0,"align":"center","baseline":"middle"},
 "encoding":{"x":{"field":"i","type":"quantitative","scale":{"domain":[0,305.1],"nice":false,"zero":false},
   "axis":{"values":[0,16,32,48,64,80,96,112,128,144,160,176,192,208,224,240],"labelExpr":"['10 Jan 2012','10 Jan 16:00','10 Jan 17:20','10 Jan 18:40','10 Jan 20:00','10 Jan 21:20','10 Jan 22:40','11 Jan 00:00','11 Jan 01:20','11 Jan 02:40','11 Jan 04:00','11 Jan 05:20','11 Jan 06:40','11 Jan 08:00','11 Jan 09:20','11 Jan 10:40'][round(datum.value/16)]","title":null,"orient":"bottom","tickSize":3,"tickColor":"#c8c8c8","labelColor":"#e8e8e8","labelFontSize":4.2,"labelAlign":"left","labelBaseline":"top","labelPadding":0,"labelOffset":1,"labelOverlap":false}},
  "y":{"field":"p","type":"quantitative","scale":{"domain":[1.27087,1.28227],"nice":false,"zero":false},"axis":null},
  "text":{"field":"t"},
  "color":{"condition":{"test":"datum.k == 'bid'","value":"#000000"},"value":"#4a4a4a"}}},
{"data":{"values":[{"i":0.4,"p":1.28216,"t":"EURUSD,M5  1.27740 1.27740 1.27701 1.27709"},{"i":1.5,"p":1.27408,"t":"#10982240 buy"}]},
 "mark":{"type":"text","fontSize":4.7,"align":"left","baseline":"middle","color":"#e4ecec"},
 "encoding":{"x":{"field":"i","type":"quantitative","scale":{"domain":[0,305.1],"nice":false,"zero":false},
   "axis":{"values":[0,16,32,48,64,80,96,112,128,144,160,176,192,208,224,240],"labelExpr":"['10 Jan 2012','10 Jan 16:00','10 Jan 17:20','10 Jan 18:40','10 Jan 20:00','10 Jan 21:20','10 Jan 22:40','11 Jan 00:00','11 Jan 01:20','11 Jan 02:40','11 Jan 04:00','11 Jan 05:20','11 Jan 06:40','11 Jan 08:00','11 Jan 09:20','11 Jan 10:40'][round(datum.value/16)]","title":null,"orient":"bottom","tickSize":3,"tickColor":"#c8c8c8","labelColor":"#e8e8e8","labelFontSize":4.2,"labelAlign":"left","labelBaseline":"top","labelPadding":0,"labelOffset":1,"labelOverlap":false}},
  "y":{"field":"p","type":"quantitative","scale":{"domain":[1.27087,1.28227],"nice":false,"zero":false},"axis":null},
  "text":{"field":"t"}}},
{"data":{"values":[{"v":102}]},
 "mark":{"type":"rule","color":"#c8c8c8","strokeWidth":2},
 "encoding":{"y":{"field":"v","type":"quantitative","scale":{"domain":[12,614],"nice":false,"zero":false},"axis":null}}},
{"data":{"name":"bars"},
 "mark":{"type":"line","color":"#000000","strokeWidth":1},
 "encoding":{"x":{"field":"i","type":"quantitative","scale":{"domain":[0,305.1],"nice":false,"zero":false},
   "axis":{"values":[0,16,32,48,64,80,96,112,128,144,160,176,192,208,224,240],"labelExpr":"['10 Jan 2012','10 Jan 16:00','10 Jan 17:20','10 Jan 18:40','10 Jan 20:00','10 Jan 21:20','10 Jan 22:40','11 Jan 00:00','11 Jan 01:20','11 Jan 02:40','11 Jan 04:00','11 Jan 05:20','11 Jan 06:40','11 Jan 08:00','11 Jan 09:20','11 Jan 10:40'][round(datum.value/16)]","title":null,"orient":"bottom","tickSize":3,"tickColor":"#c8c8c8","labelColor":"#e8e8e8","labelFontSize":4.2,"labelAlign":"left","labelBaseline":"top","labelPadding":0,"labelOffset":1,"labelOverlap":false}},
  "y":{"field":"r","type":"quantitative","scale":{"domain":[12,614],"nice":false,"zero":false},"axis":null}}},
{"data":{"values":[{"i":1,"r":94,"t":"RSI 43.1466"},{"i":1,"r":22.5,"t":"© 2001-2011 MetaQuotes Software Corp."}]},
 "mark":{"type":"text","fontSize":4.6,"align":"left","baseline":"middle","color":"#dde4e4"},
 "encoding":{"x":{"field":"i","type":"quantitative","scale":{"domain":[0,305.1],"nice":false,"zero":false},
   "axis":{"values":[0,16,32,48,64,80,96,112,128,144,160,176,192,208,224,240],"labelExpr":"['10 Jan 2012','10 Jan 16:00','10 Jan 17:20','10 Jan 18:40','10 Jan 20:00','10 Jan 21:20','10 Jan 22:40','11 Jan 00:00','11 Jan 01:20','11 Jan 02:40','11 Jan 04:00','11 Jan 05:20','11 Jan 06:40','11 Jan 08:00','11 Jan 09:20','11 Jan 10:40'][round(datum.value/16)]","title":null,"orient":"bottom","tickSize":3,"tickColor":"#c8c8c8","labelColor":"#e8e8e8","labelFontSize":4.2,"labelAlign":"left","labelBaseline":"top","labelPadding":0,"labelOffset":1,"labelOverlap":false}},
  "y":{"field":"r","type":"quantitative","scale":{"domain":[12,614],"nice":false,"zero":false},"axis":null},
  "text":{"field":"t"}}}
],
"resolve":{"scale":{"y":"independent","color":"independent"},"axis":{"y":"independent"}}
}
